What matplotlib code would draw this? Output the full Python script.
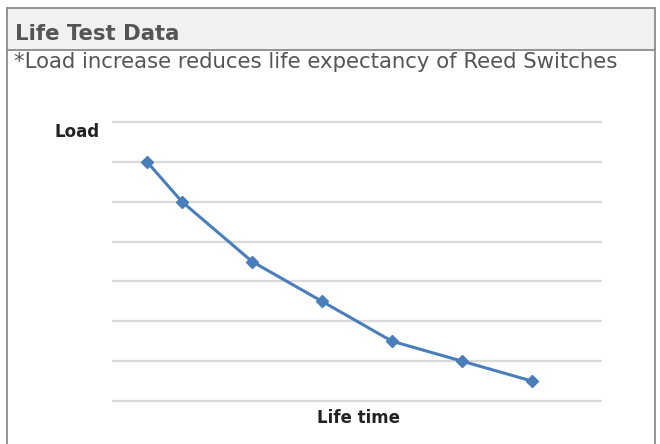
import matplotlib
matplotlib.use('Agg')
import matplotlib.pyplot as plt
from matplotlib.patches import Rectangle
from matplotlib.lines import Line2D

# Data (grid units)
life_time = [0.5, 1, 2, 3, 4, 5, 6]
load = [6, 5, 3.5, 2.5, 1.5, 1, 0.5]
grid_levels = [0, 1, 2, 3, 4, 5, 6, 7]

title = 'Life Test Data'
subtitle = '*Load increase reduces life expectancy of Reed Switches'
ylabel = 'Load'
xlabel = 'Life time'

W, H = 660, 444
fig = plt.figure(figsize=(W / 100, H / 100), dpi=100)


def fx(px):
    return px / W


def fy(py):
    return 1 - py / H


# panel frame and header band
fig.add_artist(Rectangle((fx(7), fy(50)), fx(655) - fx(7), fy(8) - fy(50),
                         transform=fig.transFigure, facecolor='#f1f1f1',
                         edgecolor='none'))
border = '#8c8c8c'
fig.add_artist(Line2D([fx(7), fx(655)], [fy(8), fy(8)], transform=fig.transFigure, color=border, lw=1.3))
fig.add_artist(Line2D([fx(7), fx(655)], [fy(50), fy(50)], transform=fig.transFigure, color=border, lw=1.3))
fig.add_artist(Line2D([fx(7), fx(7)], [fy(8), 0], transform=fig.transFigure, color=border, lw=1.3))
fig.add_artist(Line2D([fx(655), fx(655)], [fy(8), 0], transform=fig.transFigure, color=border, lw=1.3))

fig.text(fx(15), fy(40), title, fontsize=15.3, fontweight='bold', family='DejaVu Sans',
         color='#555555', va='baseline', ha='left')
fig.text(fx(14), fy(68), subtitle, fontsize=15.3, family='DejaVu Sans',
         color='#555555', va='baseline', ha='left')

# chart area
pad = 0.3
x0, x1 = 112, 602
y_top, y_bot = 122, 401
unit = (y_bot - y_top) / 7
ax = fig.add_axes([fx(x0), fy(y_bot + pad * unit), fx(x1) - fx(x0),
                   (fy(y_top - pad * unit) - fy(y_bot + pad * unit))])
ax.set_xlim(0, 7)
ax.set_ylim(-pad, 7 + pad)
for g in grid_levels:
    ax.axhline(g, color='#d9d9d9', lw=1.6, zorder=1)
ax.plot(life_time, load, color='#4a7ebb', lw=2.2, marker='D', markersize=6.5,
        markerfacecolor='#4a7ebb', markeredgecolor='#4a7ebb', zorder=3)
ax.axis('off')

fig.text(fx(55), fy(137), ylabel, fontsize=12, fontweight='bold', color='#222222',
         va='baseline', ha='left')
fig.text(fx(317), fy(423), xlabel, fontsize=12, fontweight='bold', color='#222222',
         va='baseline', ha='left')

fig.savefig('out.png', dpi=100)
